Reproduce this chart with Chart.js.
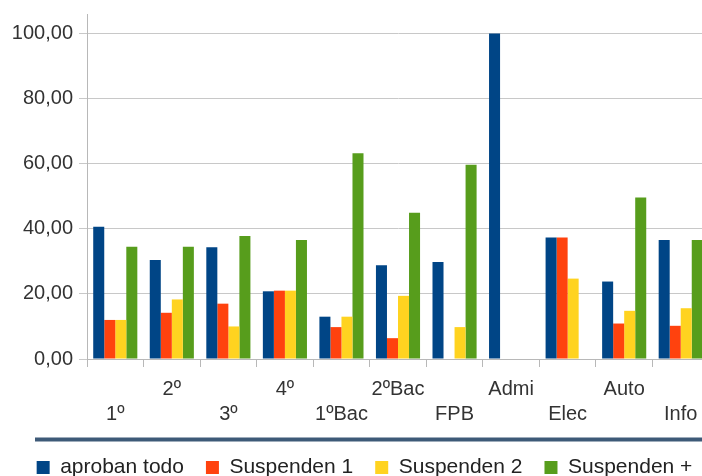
<!DOCTYPE html>
<html>
<head>
<meta charset="utf-8">
<script src="https://cdn.jsdelivr.net/npm/chart.js@4/dist/chart.umd.min.js"></script>
<style>
html, body { margin: 0; padding: 0; overflow: hidden; background: #fff; }
#wrap { width: 712px; height: 476px; }
</style>
</head>
<body>
<div id="wrap"><canvas id="grafico" width="712" height="476"></canvas></div>
<script>
// categorias y valores (%)
const cursos = ['1º', '2º', '3º', '4º', '1ºBac', '2ºBac', 'FPB', 'Admi', 'Elec', 'Auto', 'Info'];
const aprobanTodo = [40.6, 30.4, 34.3, 20.8, 13.0, 28.8, 29.8, 100, 37.3, 23.8, 36.6];
const suspenden1 = [12.0, 14.2, 17.0, 21.0, 9.8, 6.4, 0, 0, 37.3, 10.9, 10.2];
const suspenden2 = [12.0, 18.3, 10.0, 21.0, 13.0, 19.4, 9.8, 0, 24.7, 14.8, 15.6];
const suspendenMas = [34.5, 34.5, 37.8, 36.6, 63.2, 44.9, 59.7, 0, 0, 49.6, 36.6];
const yTicks = [0, 20, 40, 60, 80, 100];

const fuente = { family: '"Liberation Sans", Arial, sans-serif', size: 20 };

// linea separadora encima de la leyenda + ajuste de la leyenda
const separador = {
    id: 'separador',
    afterLayout(chart) {
        const lg = chart.legend;
        lg.left += 10;
        lg.right += 10;
        lg.top += 12;
        lg.bottom += 12;
    },
    afterDraw(chart) {
        const c = chart.ctx;
        c.save();
        c.strokeStyle = '#3e5a78';
        c.lineWidth = 4;
        c.beginPath();
        c.moveTo(35, 439.5);
        c.lineTo(712, 439.5);
        c.stroke();
        c.restore();
    }
};

const ctx = document.getElementById('grafico').getContext('2d');
const grafico = new Chart(ctx, {
    type: 'bar',
    data: {
        labels: cursos,
        datasets: [
            { label: 'aproban todo', data: aprobanTodo, backgroundColor: '#004586' },
            { label: 'Suspenden 1', data: suspenden1, backgroundColor: '#ff420e' },
            { label: 'Suspenden 2', data: suspenden2, backgroundColor: '#ffd320' },
            { label: 'Suspenden +', data: suspendenMas, backgroundColor: '#579d1c' }
        ]
    },
    options: {
        responsive: false,
        animation: false,
        devicePixelRatio: 1,
        categoryPercentage: 0.78,
        barPercentage: 1,
        layout: { padding: { top: 14, left: 0, right: 3, bottom: 0 } },
        plugins: {
            tooltip: { enabled: false },
            legend: {
                position: 'bottom',
                labels: {
                    boxWidth: 13,
                    boxHeight: 13,
                    padding: 22,
                    color: '#222',
                    font: { ...fuente, size: 21 }
                }
            }
        },
        scales: {
            x: {
                grid: { drawOnChartArea: false, drawTicks: true, tickLength: 8, color: '#b8b8b8' },
                border: { color: '#b8b8b8' },
                ticks: {
                    color: '#333',
                    font: { ...fuente, lineHeight: 1.25 },
                    padding: 10,
                    maxRotation: 0,
                    autoSkip: false,
                    callback: function(v, i) {
                        const t = cursos[i];
                        return i % 2 === 0 ? ['', t] : [t, ''];
                    }
                },
                afterFit: function(scale) { scale.height = 64; }
            },
            y: {
                min: 0,
                max: 106,
                afterBuildTicks: function(axis) {
                    axis.ticks = yTicks.map(v => ({ value: v }));
                },
                afterFit: function(scale) {
                    scale.width = 87;
                    scale.paddingTop = 0;
                    scale.paddingBottom = 0;
                },
                grid: { color: '#c8c8c8', tickLength: 8 },
                border: { color: '#b8b8b8' },
                ticks: {
                    color: '#333',
                    font: fuente,
                    padding: 6,
                    callback: v => v.toFixed(2).replace('.', ',')
                }
            }
        }
    },
    plugins: [separador]
});
</script>
</body>
</html>
